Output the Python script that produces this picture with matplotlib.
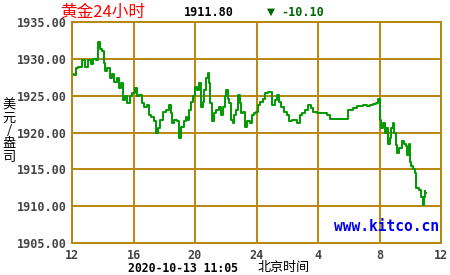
import matplotlib
matplotlib.use("Agg")
import matplotlib.pyplot as plt

# hours after 12:00 on the previous day, price in USD/oz
hours = [0.00, 0.20, 0.31, 0.52, 0.73, 0.96, 1.17, 1.28, 1.50, 1.61,
         1.78, 1.87, 2.00, 2.10, 2.21, 2.36, 2.52, 2.65, 2.80, 3.01,
         3.12, 3.23, 3.34, 3.51, 3.66, 3.82, 3.99, 4.16, 4.31, 4.47,
         4.60, 4.75, 4.96, 5.07, 5.25, 5.40, 5.51, 5.68, 5.83, 6.05,
         6.22, 6.37, 6.48, 6.59, 6.70, 6.91, 7.07, 7.17, 7.35, 7.46,
         7.56, 7.67, 7.82, 7.95, 8.11, 8.21, 8.33, 8.44, 8.54, 8.65,
         8.76, 8.87, 8.93, 9.04, 9.19, 9.30, 9.48, 9.63, 9.74, 9.84,
         10.00, 10.06, 10.17, 10.28, 10.39, 10.49, 10.60, 10.71, 10.86, 10.99,
         11.04, 11.19, 11.32, 11.47, 11.62, 11.75, 11.90, 12.05, 12.18, 12.34,
         12.49, 12.66, 12.83, 12.99, 13.09, 13.27, 13.42, 13.53, 13.70, 13.85,
         14.07, 14.18, 14.39, 14.61, 14.72, 14.88, 15.04, 15.27, 15.48, 15.59,
         15.80, 16.02, 16.24, 16.46, 16.67, 16.89, 17.11, 17.43, 17.91, 18.02,
         18.19, 18.41, 18.62, 18.84, 19.06, 19.27, 19.49, 19.71, 19.86, 19.99,
         20.03, 20.08, 20.18, 20.29, 20.40, 20.51, 20.62, 20.73, 20.83, 20.90,
         21.01, 21.12, 21.22, 21.33, 21.44, 21.55, 21.66, 21.77, 21.87, 21.94,
         22.03, 22.13, 22.24, 22.35, 22.46, 22.52, 22.63, 22.75, 22.85, 22.90,
         22.96, 23.02]
prices = [1928.0, 1927.8, 1928.7, 1928.9, 1929.8, 1928.9, 1929.8, 1929.3, 1930.0, 1929.8,
          1932.3, 1931.4, 1931.0, 1929.4, 1928.3, 1928.7, 1927.4, 1928.0, 1926.9, 1927.4,
          1926.0, 1926.7, 1924.4, 1924.9, 1924.0, 1924.9, 1925.3, 1926.0, 1924.9, 1925.1,
          1924.0, 1923.5, 1923.7, 1922.4, 1922.1, 1921.5, 1919.9, 1920.6, 1921.7, 1922.8,
          1923.1, 1923.7, 1922.6, 1921.3, 1921.7, 1921.5, 1919.2, 1920.8, 1921.5, 1922.1,
          1921.7, 1923.1, 1924.2, 1924.9, 1926.2, 1925.8, 1926.7, 1923.5, 1924.2, 1925.8,
          1927.4, 1928.1, 1926.7, 1924.0, 1921.5, 1922.6, 1923.1, 1923.5, 1922.4, 1923.5,
          1924.9, 1925.8, 1924.6, 1924.0, 1921.7, 1921.3, 1922.4, 1923.1, 1925.1, 1924.0,
          1922.6, 1922.8, 1920.8, 1921.5, 1921.3, 1922.4, 1922.6, 1922.8, 1923.7, 1924.2,
          1924.6, 1925.3, 1925.5, 1925.5, 1923.7, 1924.4, 1925.1, 1924.2, 1923.5, 1922.8,
          1922.4, 1921.5, 1921.7, 1921.7, 1921.3, 1922.4, 1922.6, 1923.1, 1923.7, 1923.3,
          1922.8, 1922.7, 1922.6, 1922.6, 1922.4, 1921.9, 1921.9, 1921.9, 1921.9, 1923.1,
          1923.0, 1923.3, 1923.6, 1923.6, 1923.7, 1923.6, 1923.7, 1923.9, 1924.0, 1924.6,
          1923.7, 1921.7, 1920.6, 1921.3, 1919.9, 1920.6, 1918.5, 1919.2, 1920.6, 1921.3,
          1919.9, 1918.3, 1917.2, 1917.9, 1917.9, 1918.8, 1918.5, 1918.1, 1916.9, 1918.5,
          1916.0, 1915.4, 1915.0, 1914.5, 1912.4, 1912.5, 1912.2, 1911.3, 1910.2, 1911.3,
          1912.0, 1911.8]

x_ticks = [0, 4, 8, 12, 16, 20, 24]
x_labels = ["12", "16", "20", "24", "4", "8", "12"]
y_ticks = [1905, 1910, 1915, 1920, 1925, 1930, 1935]

grid_col = "#b8860b"
cjk = ["Noto Sans CJK SC", "DejaVu Sans"]

fig = plt.figure(figsize=(4.5, 2.75), dpi=100)
ax = fig.add_axes([72 / 450, 1 - 243 / 275, 369 / 450, 221 / 275])

ax.plot(hours, prices, color="#009900", lw=1.4, drawstyle="steps-mid")

ax.set_xlim(0, 24)
ax.set_ylim(1905, 1935)
ax.set_xticks(x_ticks)
ax.set_xticklabels(x_labels)
ax.set_yticks(y_ticks)
ax.set_yticklabels([f"{v:.2f}" for v in y_ticks])
ax.grid(True, color=grid_col, lw=1.4)
ax.set_axisbelow(True)
for s in ax.spines.values():
    s.set_color(grid_col)
    s.set_linewidth(1.4)
ax.tick_params(length=0, pad=4, labelsize=8.5, labelcolor="#444444")
for lab in ax.get_xticklabels() + ax.get_yticklabels():
    lab.set_family("DejaVu Sans Mono")
    lab.set_weight("bold")

ax.text(0.995, 0.04, "www.kitco.cn", transform=ax.transAxes, ha="right", va="bottom",
        family="DejaVu Sans Mono", weight="bold", fontsize=10.5, color="#0000ee")

# header
fig.text(60 / 450, 1 - 12 / 275, "黄金24小时", family=cjk, fontsize=12, color="#ff0000",
         va="center", ha="left")
fig.text(209 / 450, 1 - 12 / 275, "1911.80", family="DejaVu Sans Mono", weight="bold",
         fontsize=8.5, color="black", va="center", ha="center")
fig.text(267 / 450, 1 - 12 / 275, "▼", family="DejaVu Sans", fontsize=7.5,
         color="#006600", va="center", ha="left")
fig.text(281 / 450, 1 - 12 / 275, "-10.10", family="DejaVu Sans Mono", weight="bold",
         fontsize=8.5, color="#006600", va="center", ha="left")

# footer
fig.text(128 / 450, 1 - 268 / 275, "2020-10-13 11:05", family="DejaVu Sans Mono",
         weight="bold", fontsize=8.3, color="black", va="center", ha="left")
fig.text(257 / 450, 1 - 268 / 275, "北京时间", family=cjk, fontsize=9.4,
         color="black", va="center", ha="left")

# vertical unit label
fig.text(9 / 450, 1 - 131 / 275, "\n".join("美元/盎司"), family=cjk, fontsize=9.5,
         color="black", va="center", ha="center", linespacing=1.0)

fig.savefig("out.png", dpi=100, facecolor="white")
